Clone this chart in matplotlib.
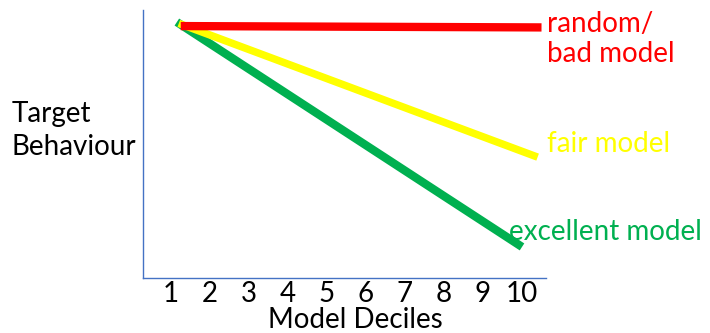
import matplotlib.pyplot as plt
import matplotlib.transforms as mtransforms

# schematic lift chart: each model line goes from its start point to its end point
deciles = [1, 2, 3, 4, 5, 6, 7, 8, 9, 10]
excellent_x = [1.15, 10.0]
excellent_y = [95.5, 11.6]
fair_x = [1.2, 10.4]
fair_y = [95.0, 45.1]
bad_x = [1.25, 10.5]
bad_y = [94.0, 93.5]

plt.rcParams['font.family'] = ['Lato', 'DejaVu Sans']
fs = 20

fig = plt.figure(figsize=(7.1, 3.33), dpi=100)
ax = fig.add_axes([143/710, 1 - 278/333, (546-143)/710, (278-10)/333])

ax.plot(excellent_x, excellent_y, color='#00B050', lw=6, solid_capstyle='butt', clip_on=False)
ax.plot(fair_x, fair_y, color='#FFFF00', lw=5.4, solid_capstyle='butt', clip_on=False)
ax.plot(bad_x, bad_y, color='#FF0000', lw=6, solid_capstyle='butt', clip_on=False)

ax.set_xlim(0.282, 10.615)
ax.set_ylim(0, 100)

for s in ['top', 'right']:
    ax.spines[s].set_visible(False)
for s in ['left', 'bottom']:
    ax.spines[s].set_color('#4472C4')
    ax.spines[s].set_linewidth(1.0)

ax.set_xticks([])
ax.set_yticks([])
# tick labels: x from the data, y (baseline) in figure coords
trans = mtransforms.blended_transform_factory(ax.transData, fig.transFigure)
for d in deciles:
    ax.text(d, 1 - 302/333, str(d), transform=trans, fontsize=fs,
            ha='center', va='baseline', clip_on=False)

def label(x, y, s, color='black', ha='left'):
    # x, y in pixels from the top-left corner, y is the text baseline
    fig.text(x/710, 1 - y/333, s, fontsize=fs, color=color, ha=ha, va='baseline')

label(355, 328, 'Model Deciles', ha='center')
label(12, 122, 'Target')
label(12, 155, 'Behaviour')
label(547, 32, 'random/', '#FF0000')
label(547, 62, 'bad model', '#FF0000')
label(547, 152, 'fair model', '#FFFF00')
label(509, 240, 'excellent model', '#00B050')

fig.savefig('out.png', dpi=100)
